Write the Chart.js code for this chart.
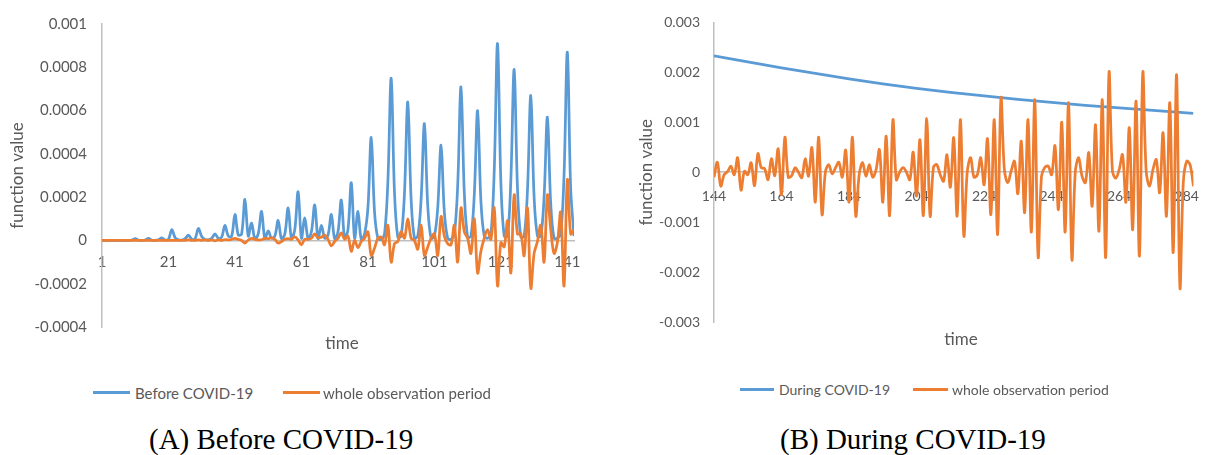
<!DOCTYPE html>
<html>
<head>
<meta charset="utf-8">
<script src="https://cdn.jsdelivr.net/npm/chart.js@4.4.1/dist/chart.umd.min.js"></script>
<style>
  body { margin: 0; width: 1215px; height: 455px; background: #fff; position: relative; overflow: hidden; font-family: Lato, sans-serif; }
  canvas { position: absolute; top: 0; }
  .txt { position: absolute; color: #595959; white-space: nowrap; transform: translateY(-50%); }
  .mid { transform: translate(-50%, -50%); }
  .key { position: absolute; height: 3px; }
  .cap { position: absolute; font-family: "Liberation Serif", serif; font-size: 29px; color: #000; white-space: nowrap; transform: translateY(-50%); }
</style>
</head>
<body>
<canvas id="chart1" width="600" height="360" style="left:0"></canvas>
<canvas id="chart2" width="615" height="360" style="left:600px"></canvas>

<div class="txt mid" style="left:342px;top:342px;font-size:17px">time</div>
<div class="txt mid" style="left:961px;top:338px;font-size:17px">time</div>

<div class="key" style="left:93px;top:391px;width:37px;background:#5B9BD5"></div>
<div class="txt" style="left:135px;top:393px;font-size:15px">Before COVID-19</div>
<div class="key" style="left:283px;top:391px;width:37px;background:#ED7D31"></div>
<div class="txt" style="left:323px;top:393px;font-size:15px">whole observation period</div>

<div class="key" style="left:740px;top:388px;width:34px;background:#5B9BD5"></div>
<div class="txt" style="left:779px;top:389px;font-size:14px">During COVID-19</div>
<div class="key" style="left:913px;top:388px;width:35px;background:#ED7D31"></div>
<div class="txt" style="left:952px;top:389px;font-size:14px">whole observation period</div>

<div class="cap" style="left:149px;top:439px">(A) Before COVID-19</div>
<div class="cap" style="left:780px;top:439px">(B) During COVID-19</div>

<script>
// panel A: t = 1..143
const timeA = Array.from({ length: 143 }, (_, i) => i + 1);
const xTicksA = [1, 21, 41, 61, 81, 101, 121, 141];

const beforeCovid = [
  0, 0, 0, 0, 0, 0, 0, 0, 0, 0.000002,
  0.000008, 0.000001, 0, 0.000002, 0.00001, 0.000001, 0, 0.000003, 0.000012, 0.000002,
  0.000005, 0.00005, 0.000012, 0.000003, 0.000002, 0.000008, 0.000024, 0.000006, 0.000008, 0.000055,
  0.000018, 0.000004, 0.000003, 0.00001, 0.00003, 0.00001, 0.000015, 0.00007, 0.00002, 0.00002,
  0.00012, 0.000025, 0.00003, 0.00019, 0.00002, 0.00008, 0.000008, 0.00003, 0.000134, 0.000008,
  0.000044, 0.00001, 0.00002, 0.000092, 0.000008, 0.00003, 0.00015, 0.00001, 0.00005, 0.000225,
  0.00001, 0.000104, 0.000008, 0.00004, 0.000164, 0.000008, 0.00007, 0.00001, 0.000025, 0.00012,
  0.000008, 0.00004, 0.000187, 0.00001, 0.00005, 0.000267, 0.00001, 0.000134, 0.000005, 0.00003,
  0.00015, 0.000476, 0.00013, 0.00001, 0.000005, 0.00003, 0.00027, 0.00075, 0.00022, 0.000015,
  0.00002, 0.00022, 0.00064, 0.00019, 0.00001, 0.00002, 0.00019, 0.00054, 0.00016, 0.00001,
  0.00002, 0.00015, 0.00044, 0.00013, 0.00001, 0.000005, 0.00003, 0.00025, 0.00071, 0.00022,
  0.000015, 0.00002, 0.00021, 0.0006, 0.00018, 0.00002, 0.00001, 0.00003, 0.00032, 0.00091,
  0.00027, 0.00002, 0.00002, 0.00028, 0.00079, 0.00024, 0.000015, 0.00002, 0.00023, 0.00067,
  0.0002, 0.00002, 0.00002, 0.0002, 0.00057, 0.00017, 0.00001, 0.00001, 0.00003, 0.0003,
  0.00087, 0.00024, 0.00002
];

const wholeA = [
  0, 0, 0, 0, 0, 0, 0, 0, 0, 0,
  0, 0, 0, 0, 0, 0, 0, 0, 0, 0,
  0, 0, 0, 0, 0, 0, 0.000002, 0, 0, 0.000003,
  0, 0.000002, 0, 0.000003, -0.000002, 0.000003, 0, 0.000004, 0.000002, 0.000005,
  0.00001, 0.000005, 0, -0.000012, 0.000002, 0.00001, 0.000005, 0.000002, 0.000003, 0.00001,
  0.000008, 0.000012, 0.000005, -0.000012, -0.000005, 0.000005, 0.000008, 0.000005, 0.000017, 0.000002,
  -0.00002, 0.000005, 0.000005, 0.00001, 0.00003, 0.000012, 0.000015, 0.000025, 0.000005, -0.000025,
  -0.000005, 0.00001, 0.000035, 0.000005, 0.00002, -0.00005, 0, -0.000033, -0.000005, 0.00001,
  0.00004, -0.00007, -0.000035, 0.00001, 0.000015, -0.00002, 0.00007, -0.0001, -0.000015, -0.000005,
  0.00004, 0.00001, 0.0001, 0.00001, 0, -0.00004, 0.00007, -0.00007, -0.00003, 0.00001,
  0.00003, -0.00007, 0.00011, 0.00002, -0.000015, -0.00002, 0.00007, -0.0001, 0.00015, 0.00004,
  0.00001, -0.00006, 0.0001, -0.00015, -0.00005, 0.00001, 0.00005, 0.000005, 0.00015, -0.00021,
  -0.00001, -0.00003, 0.00009, -0.00015, 0.00021, 0.00003, 0.00003, -0.00007, 0.00015, -0.00022,
  -0.00006, -0.000005, 0.00007, -0.0001, 0.00021, 0.00005, -0.00006, -0.00001, 0.00013, -0.00021,
  0.00028, 0.00003, 0.00005
];

// panel B: t = 144..286
const timeB = Array.from({ length: 143 }, (_, i) => i + 144);
const xTicksB = [144, 164, 184, 204, 224, 244, 264, 284];

const duringTime = [144, 154, 164, 174, 184, 194, 204, 214, 224, 234, 244, 254, 264, 274, 284, 286];
const duringCovid = [0.00233, 0.00221, 0.00209, 0.00198, 0.00187, 0.00177, 0.00168, 0.0016, 0.00153, 0.00146, 0.0014, 0.00134, 0.00129, 0.00124, 0.00119, 0.00118];

const wholeB = [
  -0.0001, 0.0002, -0.00028, -0.00005, 0.00001, 0.00012, -0.00005, 0.00029, -0.00036, 0.00002,
  -0.00005, 0.00019, -0.00027, 0.00037, 0.00009, 0.00007, -0.00015, 0.00027, -0.00007, 0.00047,
  -0.00045, 0.0007, -0.0001, -0.00007, 0.00009, 0, -0.00011, 0.00027, -0.00008, 0.00049,
  -0.0006, 0.0007, -0.00085, 0.00001, 0.00015, -0.00003, 0.00009, 0.0002, -0.0001, 0.00044,
  -0.0006, 0.0007, -0.00088, -0.00005, 0.00019, -0.00008, 0.00015, -0.0001, 0.00005, 0.00045,
  -0.0006, 0.00072, -0.00087, 0.00105, -0.00015, 0, 0.00009, 0, -0.00015, 0.0004,
  -0.00048, 0.00065, -0.00087, 0.00108, -0.00088, 0.0001, 0.00015, -0.00005, -0.00018, 0.00035,
  -0.0003, 0.00069, -0.00088, 0.00105, -0.00128, 0, 0.00029, -0.0001, -0.00005, 0.00029,
  -0.00025, 0.00067, -0.00085, 0.00105, -0.00125, 0.00149, 0.00005, -0.00021, 0.00002, 0.00022,
  -0.00043, 0.00062, -0.00081, 0.00105, -0.0012, 0.00145, -0.0017, -0.00008, 0.0001, 0.00012,
  -0.00005, 0.00053, -0.00075, 0.001, -0.0012, 0.00139, -0.00175, 0, 0.00029, -0.00008,
  -0.00021, 0.00039, -0.00068, 0.00095, -0.00118, 0.00145, -0.00171, 0.002, 0.00003, -0.00012,
  0.00005, 0.00035, -0.0006, 0.00089, -0.00115, 0.00142, -0.00168, 0.002, 0.00002, -0.00028,
  0.00005, 0.00025, -0.00041, 0.00079, -0.00088, 0.00139, -0.00161, 0.00195, -0.00231, -0.0002,
  0.00022, 0.00015, -0.00028
];

const blue = '#5B9BD5';
const orange = '#ED7D31';
const grey = '#595959';
const axisGrey = '#bfbfbf';

const pairs = (xs, ys) => xs.map((x, i) => ({ x: x, y: ys[i] }));

new Chart(document.getElementById('chart1'), {
  type: 'line',
  data: {
    datasets: [
      { label: 'Before COVID-19', data: pairs(timeA, beforeCovid), borderColor: blue, borderWidth: 2.75, pointRadius: 0, tension: 0.35, order: 1 },
      { label: 'whole observation period', data: pairs(timeA, wholeA), borderColor: orange, borderWidth: 2.75, pointRadius: 0, tension: 0.35, order: 0 }
    ]
  },
  options: {
    responsive: false,
    animation: false,
    events: [],
    layout: { padding: { left: 7, top: 17, right: 26, bottom: 33 } },
    plugins: { legend: { display: false }, tooltip: { enabled: false } },
    scales: {
      x: {
        type: 'linear', min: 1, max: 143, position: { y: 0 },
        afterBuildTicks: s => { s.ticks = xTicksA.map(v => ({ value: v })); },
        grid: { display: false, drawTicks: false },
        border: { color: axisGrey, width: 1.5 },
        ticks: { color: grey, font: { family: 'Lato', size: 15 }, padding: 13, maxRotation: 0, autoSkip: false }
      },
      y: {
        min: -0.0004, max: 0.001,
        afterFit: s => { s.width = 95; },
        grid: { display: false, drawTicks: false },
        border: { color: axisGrey, width: 1.5 },
        ticks: { stepSize: 0.0002, color: grey, font: { family: 'Lato', size: 15 }, padding: 15, callback: v => String(+v.toFixed(4)) },
        title: { display: true, text: 'function value', color: grey, font: { family: 'Lato', size: 17 }, padding: 0 }
      }
    }
  }
});

new Chart(document.getElementById('chart2'), {
  type: 'line',
  data: {
    datasets: [
      { label: 'During COVID-19', data: pairs(duringTime, duringCovid), borderColor: blue, borderWidth: 2.75, pointRadius: 0, tension: 0.4, order: 1 },
      { label: 'whole observation period', data: pairs(timeB, wholeB), borderColor: orange, borderWidth: 2.75, pointRadius: 0, tension: 0.35, order: 0 }
    ]
  },
  options: {
    responsive: false,
    animation: false,
    events: [],
    layout: { padding: { left: 36, top: 22, right: 9, bottom: 38 } },
    plugins: { legend: { display: false }, tooltip: { enabled: false } },
    scales: {
      x: {
        type: 'linear', min: 144, max: 286, position: { y: 0 },
        afterBuildTicks: s => { s.ticks = xTicksB.map(v => ({ value: v })); },
        grid: { display: false, drawTicks: false },
        border: { color: axisGrey, width: 1.5 },
        ticks: { color: grey, font: { family: 'Lato', size: 14 }, padding: 16, maxRotation: 0, autoSkip: false }
      },
      y: {
        min: -0.003, max: 0.003,
        afterFit: s => { s.width = 78; },
        grid: { display: false, drawTicks: false },
        border: { color: axisGrey, width: 1.5 },
        ticks: { stepSize: 0.001, color: grey, font: { family: 'Lato', size: 14 }, padding: 14, callback: v => String(+v.toFixed(3)) },
        title: { display: true, text: 'function value', color: grey, font: { family: 'Lato', size: 17 }, padding: 0 }
      }
    }
  }
});
</script>
</body>
</html>
